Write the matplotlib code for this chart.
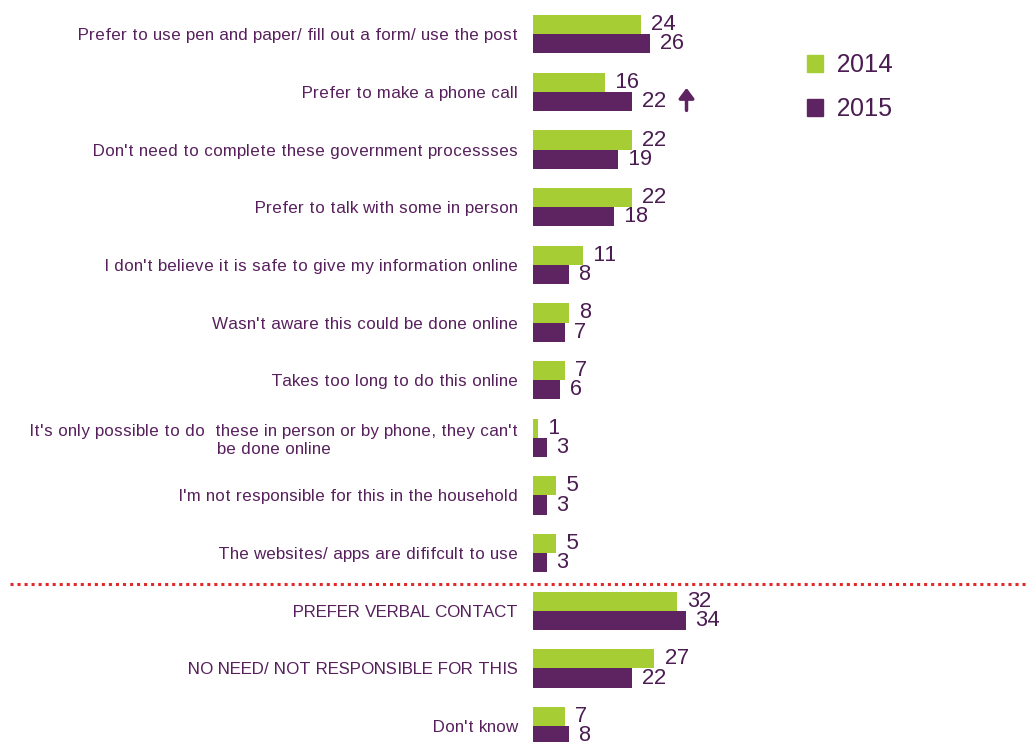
import matplotlib.pyplot as plt
from matplotlib.lines import Line2D
from matplotlib.patches import Patch

plt.rcParams['font.family'] = ['Liberation Sans', 'DejaVu Sans']
plt.rcParams['text.hinting_factor'] = 1

categories = [
    "Prefer to use pen and paper/ fill out a form/ use the post",
    "Prefer to make a phone call",
    "Don't need to complete these government processses",
    "Prefer to talk with some in person",
    "I don't believe it is safe to give my information online",
    "Wasn't aware this could be done online",
    "Takes too long to do this online",
    "It's only possible to do  these in person or by phone, they can't\nbe done online",
    "I'm not responsible for this in the household",
    "The websites/ apps are dififcult to use",
    "PREFER VERBAL CONTACT",
    "NO NEED/ NOT RESPONSIBLE FOR THIS",
    "Don't know",
]
v2014 = [24, 16, 22, 22, 11, 8, 7, 1, 5, 5, 32, 27, 7]
v2015 = [26, 22, 19, 18, 8, 7, 6, 3, 3, 3, 34, 22, 8]
years = ["2014", "2015"]

GREEN = "#a6cd34"
PURPLE = "#5d2461"
TEXT = "#57205d"
VALTXT = "#4b1d52"

W, H = 1028, 742
fig = plt.figure(figsize=(W / 100, H / 100), dpi=100)
ax = fig.add_axes([533.3 / W, 0, 60 * 4.48 / W, 1])

ys = list(range(len(categories)))
bh = 0.333
ax.barh([y - bh / 2 for y in ys], v2014, height=bh, color=GREEN, label=years[0])
ax.barh([y + bh / 2 for y in ys], v2015, height=bh, color=PURPLE, label=years[1])

ax.set_xlim(0, 60)
ax.set_ylim(12.276, -0.595)

# value labels at the end of each bar
for y, a, b in zip(ys, v2014, v2015):
    ax.annotate(str(a), (a, y - bh / 2), xytext=(7.5, 0), textcoords='offset points',
                ha='left', va='center', fontsize=15.5, color=VALTXT)
    ax.annotate(str(b), (b, y + bh / 2), xytext=(7, 0), textcoords='offset points',
                ha='left', va='center', fontsize=15.5, color=VALTXT)

# significant increase marker
ax.annotate("", xy=(34.2, 0.93), xytext=(34.2, 1.32),
            arrowprops=dict(arrowstyle='-|>,head_width=0.45,head_length=0.6',
                            color=PURPLE, lw=2.5, shrinkA=0, shrinkB=0))

ax.set_yticks(ys)
ax.set_yticklabels(categories, fontsize=12.0, color=TEXT, multialignment='center')
ax.tick_params(axis='y', length=0, pad=11)
ax.set_xticks([])
for s in ax.spines.values():
    s.set_visible(False)

# separator between detail rows and summary rows
sep_y = 1 - (584 / H)
fig.add_artist(Line2D([10 / W, 1], [sep_y, sep_y], transform=fig.transFigure,
                      color="#e02a2a", lw=2.2, linestyle=(0, (1, 1.3))))

handles = [Patch(color=GREEN), Patch(color=PURPLE)]
leg = fig.legend(handles, years, loc='upper left', bbox_to_anchor=(784 / W, 1 - 31 / H),
                 frameon=False, fontsize=18, handlelength=0.65, handleheight=0.65,
                 handletextpad=0.55, labelspacing=0.8)
for t in leg.get_texts():
    t.set_color(VALTXT)

fig.savefig("out.png", dpi=100)
